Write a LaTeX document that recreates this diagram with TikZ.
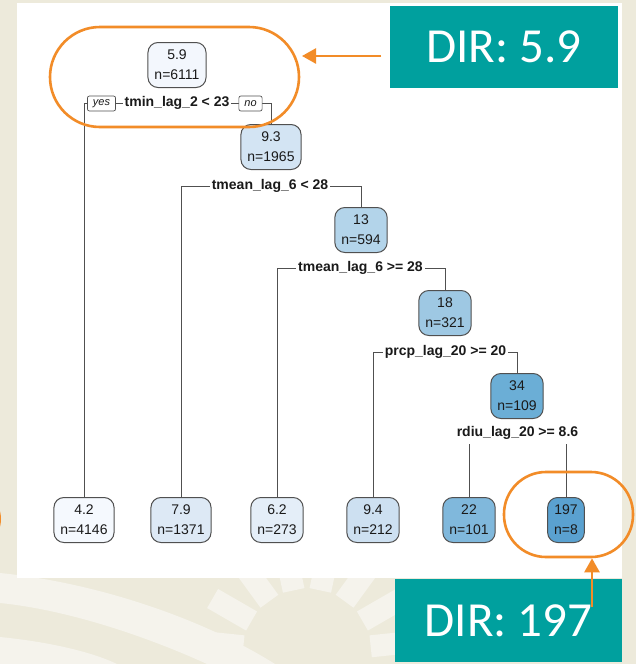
\documentclass[tikz,border=0pt]{standalone}
\usepackage{fontspec}
\setmainfont{Liberation Sans}
\newfontfamily\dirfont{Carlito}
\usetikzlibrary{arrows.meta,calc}
\pgfdeclarelayer{back}
\pgfdeclarelayer{lines}
\pgfsetlayers{back,lines,main}
\definecolor{beige}{HTML}{EDEADB}
\definecolor{lightband}{HTML}{F5F3EC}
\definecolor{tealbox}{HTML}{00A09E}
\definecolor{hlorange}{HTML}{F28C28}
\definecolor{nodeline}{HTML}{505050}
\definecolor{txt}{HTML}{1A1A1A}
\definecolor{cA}{HTML}{F3F7FD}
\definecolor{cB}{HTML}{D3E4F3}
\definecolor{cC}{HTML}{B3D4EA}
\definecolor{cD}{HTML}{9EC8E3}
\definecolor{cE}{HTML}{6BAED6}
\definecolor{cL1}{HTML}{F5F9FE}
\definecolor{cL2}{HTML}{DDE9F5}
\definecolor{cL3}{HTML}{E4EEF8}
\definecolor{cL4}{HTML}{CDE0F1}
\definecolor{cL5}{HTML}{80B8DC}
\definecolor{cL6}{HTML}{5AA1D0}
\tikzset{
  tnode/.style={draw=nodeline, line width=1pt, rounded corners=10pt, align=center,
    font=\fontsize{14}{20}\selectfont, text=txt, minimum height=45pt,
    inner xsep=6.5pt, inner ysep=3pt},
  split/.style={font=\bfseries\fontsize{14}{16}\selectfont, fill=white, inner xsep=2pt, inner ysep=1.5pt, text=txt},
  yn/.style={draw=nodeline, line width=0.7pt, rounded corners=2pt, fill=white,
    font=\itshape\fontsize{11}{12}\selectfont, text=txt, inner xsep=5.5pt, inner ysep=0pt, minimum height=15pt},
  edge/.style={draw=nodeline, line width=0.9pt},
  dirbox/.style={fill=tealbox, text=white, font=\dirfont\fontsize{49}{55}\selectfont, inner sep=0pt},
  hl/.style={draw=hlorange, line width=2.6pt},
  hlarrow/.style={draw=hlorange, line width=2.5pt, -{Triangle[length=14pt,width=15pt]}},
  ray/.style={fill=lightband},
}
\begin{document}
\begin{tikzpicture}[x=1pt,y=-1pt]
\useasboundingbox (0,0) rectangle (636,664);
\begin{pgfonlayer}{back}
  \fill[beige] (0,0) rectangle (636,664);
  % light bands
  \fill[lightband] (0,573) .. controls (100,583) and (205,620) .. (275,664)
     -- (207,664) .. controls (150,638) and (70,610) .. (0,603) -- cycle;
  \fill[lightband] (0,637) .. controls (50,642) and (92,652) .. (117,664) -- (0,664) -- cycle;
  % sun rays
  \coordinate (sun) at (307,653);
  \foreach \a in {6,30,54,78,102,126,150,174}{
    \begin{scope}[shift={(sun)}, rotate=\a, y=1pt]
      \fill[ray] (64,-11) rectangle (109,11);
    \end{scope}
  }
  % clipped orange shape at the left edge
  \draw[hl] (-31.3,519) ellipse [x radius=31, y radius=30];
  % white panel
  \fill[white] (17,3) rectangle (622,578);
\end{pgfonlayer}

% tree nodes
\node[tnode, fill=cA] (n1) at (177,65) {5.9\\n=6111};
\node[tnode, fill=cB] (n2) at (271,147) {9.3\\n=1965};
\node[tnode, fill=cC] (n3) at (361,230) {13\\n=594};
\node[tnode, fill=cD] (n4) at (445,313) {18\\n=321};
\node[tnode, fill=cE] (n5) at (517,396) {34\\n=109};

\node[tnode, fill=cL1] (l1) at (84,520) {4.2\\n=4146};
\node[tnode, fill=cL2] (l2) at (181,520) {7.9\\n=1371};
\node[tnode, fill=cL3] (l3) at (277,520) {6.2\\n=273};
\node[tnode, fill=cL4] (l4) at (373,520) {9.4\\n=212};
\node[tnode, fill=cL5] (l5) at (469,520) {22\\n=101};
\node[tnode, fill=cL6] (l6) at (566,520) {197\\n=8};

% split labels
\node[split] (s1) at (177,103) {tmin\_lag\_2 < 23};
\node[yn] (yes) at (101.5,103.5) {yes};
\node[yn] (no) at (250.5,103.5) {no};
\node[split] (s2) at (270,186) {tmean\_lag\_6 < 28};
\node[split] (s3) at (360.5,268) {tmean\_lag\_6 >= 28};
\node[split] (s4) at (445.5,352) {prcp\_lag\_20 >= 20};
\node[split] (s5) at (517.5,433) {rdiu\_lag\_20 >= 8.6};

\begin{pgfonlayer}{lines}
  \draw[edge] (l1.north) |- (s1.center) -| (n2.north);
  \draw[edge] (l2.north) |- (s2.center) -| (n3.north);
  \draw[edge] (l3.north) |- (s3.center) -| (n4.north);
  \draw[edge] (l4.north) |- (s4.center) -| (n5.north);
  \draw[edge] (l5.north) -- ($(l5.north |- s5.south)+(0,3)$);
  \draw[edge] (l6.north) -- ($(l6.north |- s5.south)+(0,3)$);
\end{pgfonlayer}

% annotations
\node[dirbox, minimum width=228pt, minimum height=82pt] (d1) at (504,47) {DIR: 5.9};
\node[hl, rounded corners=50pt, minimum width=249pt, minimum height=100pt, inner sep=0pt] (o1) at (174.5,77) {};
\coordinate (a1s) at (381,56);
\coordinate (a1e) at (302,56);
\draw[hlarrow] (a1s) -- (a1e);

\node[dirbox, minimum width=227pt, minimum height=83pt] (d2) at (508.5,620.5) {DIR: 197};
\node[hl, rounded corners=42pt, minimum width=129pt, minimum height=85pt, inner sep=0pt] (o2) at (568.5,514.5) {};
\coordinate (a2s) at (592,607);
\draw[hlarrow] (a2s) -- (a2s |- o2.south);
\end{tikzpicture}
\end{document}
